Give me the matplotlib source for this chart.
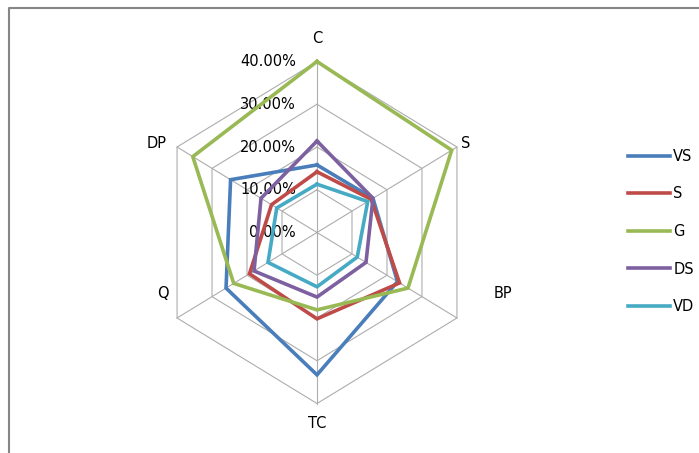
import numpy as np
import matplotlib
matplotlib.use("Agg")
import matplotlib.pyplot as plt
from matplotlib.lines import Line2D

categories = ["C", "S", "BP", "TC", "Q", "DP"]
series_names = ["VS", "S", "G", "DS", "VD"]
vs = [15.8, 16.0, 23.0, 33.3, 26.0, 24.7]
s = [14.2, 15.5, 23.6, 20.2, 19.3, 13.0]
g = [40.0, 38.5, 26.0, 18.1, 23.8, 35.5]
ds = [21.4, 16.0, 14.0, 15.1, 18.0, 16.0]
vd = [11.3, 14.5, 11.5, 12.7, 14.0, 11.5]
series = [vs, s, g, ds, vd]
colors = ["#4A7EBB", "#BE4B48", "#98B954", "#7D60A0", "#46AAC5"]
rings = [0, 10, 20, 30, 40]

W, H = 699, 453
cx, cy = 317, 232.5          # centre of the radar, pixels
sx, sy = 4.04, 4.275         # pixels per percent, horizontal / vertical

fig = plt.figure(figsize=(W / 100, H / 100), dpi=100)
ax = fig.add_axes([0, 0, 1, 1])
ax.set_xlim(-cx / sx, (W - cx) / sx)
ax.set_ylim(-(H - cy) / sy, cy / sy)
ax.axis("off")

theta = np.deg2rad(90 - 60 * np.arange(len(categories)))


def to_xy(r):
    r = np.asarray(r, dtype=float)
    return r * np.cos(theta), r * np.sin(theta)


def closed(a):
    return np.append(a, a[0])


# hexagonal grid and spokes
grid_color = "#ADADAD"
for r in rings[1:]:
    x, y = to_xy([r] * len(categories))
    ax.plot(closed(x), closed(y), color=grid_color, lw=0.8, zorder=1)
ox, oy = to_xy([rings[-1]] * len(categories))
for x, y in zip(ox, oy):
    ax.plot([0, x], [0, y], color=grid_color, lw=0.8, zorder=1)

# value labels up the first axis
for r in rings:
    ax.text(-21 / sx, r, f"{r:.2f}%", ha="right", va="center", fontsize=10.5)

# category labels
label_offsets = {"C": (0, 23), "S": (9, 3), "BP": (46, 24),
                 "TC": (0, -20), "Q": (-14, 24), "DP": (-20, 3)}
for cat, x, y in zip(categories, ox, oy):
    ax.annotate(cat, (x, y), xytext=label_offsets[cat], textcoords="offset pixels",
                ha="center", va="center", fontsize=10.5)

# series
for name, vals, col in zip(series_names, series, colors):
    x, y = to_xy(vals)
    ax.plot(closed(x), closed(y), color=col, lw=2.6, label=name, zorder=3,
            solid_joinstyle="miter")

ax.legend(loc="center left", bbox_to_anchor=(628 / W, 1 - 231.5 / H),
          bbox_transform=fig.transFigure, frameon=False, fontsize=10.5,
          borderpad=0, borderaxespad=0, handlelength=2.9, handletextpad=0.2,
          labelspacing=1.55)

# chart area border (top and left edges)
fig.add_artist(Line2D([9 / W, 9 / W, 1], [0, 1 - 8 / H, 1 - 8 / H],
                      transform=fig.transFigure, color="#868686", lw=1.5))

fig.savefig("out.png", dpi=100)
